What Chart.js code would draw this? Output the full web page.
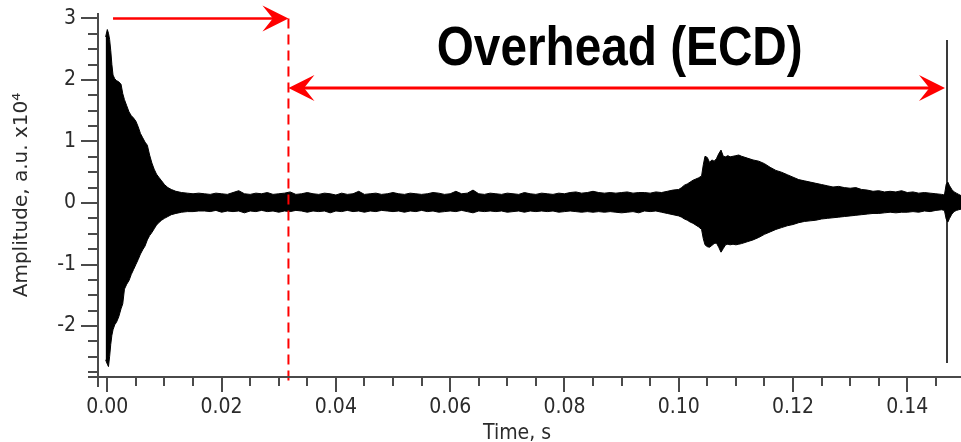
<!DOCTYPE html>
<html lang="en">
<head>
    <meta charset="UTF-8">
    <script src="https://cdn.jsdelivr.net/npm/chart.js"></script>
    <style>
        body { margin: 0; padding: 0; background: #fff; }
        .chart-container { position: relative; width: 961px; height: 442px; }
    </style>
</head>
<body>

    <div class="chart-container">
        <canvas id="myChart"></canvas>
    </div>

    <script>
        // --- DATA (amplitude in a.u. x10^4, time in s) ---
        // ring-down right after the impact
        const decayTime  = [-0.0003, 0, 0.0002, 0.0004, 0.0006, 0.0008, 0.0010, 0.0013, 0.0016, 0.0020,
                            0.0024, 0.0027, 0.0030, 0.0034, 0.0038, 0.0042, 0.0046, 0.0050, 0.0054, 0.0058,
                            0.0062, 0.0066, 0.0070, 0.0074, 0.0078, 0.0082, 0.0086, 0.0090, 0.0095, 0.0100,
                            0.0106, 0.0112, 0.0120, 0.0130, 0.0140, 0.0150, 0.0160];
        const decayUpper = [2.70, 2.82, 2.76, 2.66, 2.48, 2.25, 2.08, 2.02, 1.99, 1.97,
                            1.93, 1.78, 1.68, 1.58, 1.48, 1.42, 1.38, 1.33, 1.24, 1.13,
                            1.06, 0.99, 0.94, 0.78, 0.65, 0.55, 0.47, 0.42, 0.36, 0.30,
                            0.25, 0.22, 0.19, 0.17, 0.16, 0.15, 0.16];
        const decayLower = [-2.55, -2.62, -2.66, -2.50, -2.30, -2.15, -2.06, -1.98, -1.94, -1.85,
                            -1.72, -1.64, -1.40, -1.32, -1.26, -1.16, -1.08, -1.00, -0.92, -0.83,
                            -0.76, -0.70, -0.60, -0.53, -0.48, -0.42, -0.36, -0.32, -0.28, -0.25,
                            -0.22, -0.19, -0.17, -0.15, -0.14, -0.14, -0.13];

        // quiet stretch (background noise)
        const quietTime  = [0.017, 0.018, 0.019, 0.020, 0.021, 0.022, 0.023, 0.024, 0.025, 0.026,
                            0.027, 0.028, 0.029, 0.030, 0.031, 0.032, 0.033, 0.034, 0.035, 0.036,
                            0.037, 0.038, 0.039, 0.040, 0.041, 0.042, 0.043, 0.044, 0.045, 0.046,
                            0.047, 0.048, 0.049, 0.050, 0.051, 0.052, 0.053, 0.054, 0.055, 0.056,
                            0.057, 0.058, 0.059, 0.060, 0.061, 0.062, 0.063, 0.064, 0.065, 0.066,
                            0.067, 0.068, 0.069, 0.070, 0.071, 0.072, 0.073, 0.074, 0.075, 0.076,
                            0.077, 0.078, 0.079, 0.080, 0.081, 0.082, 0.083, 0.084, 0.085, 0.086,
                            0.087, 0.088, 0.089, 0.090, 0.091, 0.092, 0.093];
        const quietUpper = [0.15, 0.14, 0.16, 0.15, 0.14, 0.17, 0.20, 0.15, 0.14, 0.16,
                            0.15, 0.17, 0.14, 0.15, 0.16, 0.18, 0.14, 0.15, 0.17, 0.15,
                            0.14, 0.16, 0.15, 0.13, 0.16, 0.14, 0.15, 0.19, 0.14, 0.15,
                            0.16, 0.14, 0.15, 0.17, 0.15, 0.14, 0.16, 0.15, 0.14, 0.15,
                            0.17, 0.16, 0.14, 0.15, 0.19, 0.15, 0.16, 0.21, 0.15, 0.14,
                            0.16, 0.15, 0.14, 0.16, 0.15, 0.14, 0.17, 0.15, 0.14, 0.16,
                            0.15, 0.14, 0.16, 0.15, 0.17, 0.18, 0.16, 0.17, 0.19, 0.17,
                            0.16, 0.17, 0.16, 0.17, 0.18, 0.16, 0.17];
        const quietLower = [-0.13, -0.14, -0.12, -0.15, -0.13, -0.14, -0.13, -0.16, -0.13, -0.14,
                            -0.12, -0.14, -0.13, -0.15, -0.13, -0.14, -0.12, -0.13, -0.15, -0.13,
                            -0.14, -0.13, -0.16, -0.13, -0.14, -0.12, -0.14, -0.13, -0.15, -0.13,
                            -0.14, -0.12, -0.13, -0.14, -0.13, -0.15, -0.13, -0.14, -0.12, -0.14,
                            -0.13, -0.15, -0.14, -0.13, -0.14, -0.12, -0.14, -0.16, -0.13, -0.14,
                            -0.13, -0.14, -0.13, -0.15, -0.14, -0.13, -0.15, -0.13, -0.14, -0.13,
                            -0.14, -0.13, -0.15, -0.14, -0.13, -0.14, -0.15, -0.14, -0.15, -0.14,
                            -0.15, -0.14, -0.15, -0.16, -0.15, -0.14, -0.16];

        // second burst and end of the cycle
        const burstTime  = [0.094, 0.095, 0.096, 0.097, 0.098, 0.099, 0.1000, 0.1005, 0.1010, 0.1015,
                            0.1020, 0.1025, 0.1030, 0.1035, 0.1040, 0.1043, 0.1046, 0.1050, 0.1054, 0.1058,
                            0.1062, 0.1066, 0.1070, 0.1074, 0.1078, 0.1082, 0.1086, 0.1090, 0.1095, 0.1100,
                            0.1105, 0.1110,
                            0.112, 0.113, 0.114, 0.115, 0.116, 0.117, 0.118, 0.119, 0.120, 0.121,
                            0.122, 0.123, 0.124, 0.125, 0.126, 0.127, 0.128, 0.129, 0.130, 0.131,
                            0.132, 0.133, 0.134, 0.135, 0.136, 0.137, 0.138, 0.139, 0.140, 0.141,
                            0.142, 0.143, 0.144, 0.145, 0.146,
                            0.1465, 0.1468, 0.1471, 0.1474, 0.1478, 0.1482, 0.1486, 0.1490, 0.1494];
        const burstUpper = [0.17, 0.16, 0.18, 0.17, 0.19, 0.21, 0.22, 0.25, 0.29, 0.31,
                            0.34, 0.37, 0.39, 0.41, 0.44, 0.62, 0.76, 0.74, 0.66, 0.70,
                            0.68, 0.72, 0.80, 0.86, 0.76, 0.75, 0.77, 0.75, 0.76, 0.77,
                            0.78, 0.76,
                            0.73, 0.70, 0.68, 0.64, 0.58, 0.53, 0.50, 0.46, 0.42, 0.38,
                            0.36, 0.34, 0.32, 0.30, 0.28, 0.26, 0.27, 0.25, 0.24, 0.25,
                            0.22, 0.21, 0.19, 0.20, 0.18, 0.19, 0.18, 0.20, 0.17, 0.18,
                            0.16, 0.17, 0.16, 0.15, 0.14,
                            0.13, 0.30, 0.34, 0.28, 0.22, 0.18, 0.16, 0.14, 0.12];
        const burstLower = [-0.13, -0.14, -0.13, -0.15, -0.17, -0.19, -0.21, -0.23, -0.26, -0.28,
                            -0.31, -0.33, -0.36, -0.39, -0.43, -0.58, -0.68, -0.71, -0.72, -0.69,
                            -0.66, -0.65, -0.72, -0.80, -0.74, -0.68, -0.67, -0.68, -0.67, -0.68,
                            -0.67, -0.66,
                            -0.63, -0.60, -0.56, -0.51, -0.47, -0.43, -0.40, -0.37, -0.35, -0.32,
                            -0.30, -0.29, -0.28, -0.26, -0.25, -0.24, -0.23, -0.22, -0.21, -0.20,
                            -0.19, -0.18, -0.17, -0.17, -0.16, -0.15, -0.16, -0.15, -0.15, -0.14,
                            -0.15, -0.13, -0.14, -0.12, -0.11,
                            -0.12, -0.26, -0.31, -0.25, -0.18, -0.14, -0.12, -0.11, -0.10];

        // sharp spike that closes the cycle
        const spikeTime = [0.14695, 0.14695];
        const spikeAmp  = [2.65, -2.60];

        // axes
        const xTickLabels = ['0.00', '0.02', '0.04', '0.06', '0.08', '0.10', '0.12', '0.14'];
        const yTickLabels = ['-2', '-1', '0', '1', '2', '3'];

        // annotation: end of the ring-down and the ECD overhead span
        const ecdStart = 0.0317;
        const ecdLabel = 'Overhead (ECD)';

        // --- BUILD POINTS ---
        const toPts = (t, v) => t.map((x, i) => ({ x: x, y: v[i] }));
        const allTime  = decayTime.concat(quietTime, burstTime);
        const allUpper = decayUpper.concat(quietUpper, burstUpper);
        const allLower = decayLower.concat(quietLower, burstLower);

        const FONT = "'DejaVu Sans Condensed', 'DejaVu Sans', sans-serif";
        const TXT = '#2b2b2b';
        const RED = '#ff0000';

        // stealth-style arrow head, dir = +1 points right, -1 points left
        function arrowHead(ctx, tipX, tipY, dir) {
            const len = 26, half = 13;
            ctx.beginPath();
            ctx.moveTo(tipX, tipY);
            ctx.lineTo(tipX - dir * len, tipY - half);
            ctx.lineTo(tipX - dir * len * 0.6, tipY);
            ctx.lineTo(tipX - dir * len, tipY + half);
            ctx.closePath();
            ctx.fill();
        }

        // axis lines + major/minor tick marks, and the x title
        const axisPlugin = {
            id: 'axisTicks',
            afterDraw(chart) {
                const { ctx, chartArea: a, scales: { x, y } } = chart;
                ctx.save();
                ctx.strokeStyle = '#4a4a4a';
                ctx.lineWidth = 2;
                ctx.beginPath();
                ctx.moveTo(a.left, a.top);
                ctx.lineTo(a.left, a.bottom + 10);
                ctx.moveTo(a.left - 10, a.bottom);
                ctx.lineTo(a.right, a.bottom);

                for (let i = -11; i <= 12; i++) {
                    const v = i * 0.25;
                    const py = Math.round(y.getPixelForValue(v));
                    const len = (i % 4 === 0) ? 17 : 10;
                    ctx.moveTo(a.left - len, py);
                    ctx.lineTo(a.left, py);
                }
                for (let i = 0; i <= 29; i++) {
                    const v = i * 0.005;
                    const px = Math.round(x.getPixelForValue(v));
                    const len = (i % 4 === 0) ? 15 : 9;
                    ctx.moveTo(px, a.bottom);
                    ctx.lineTo(px, a.bottom + len);
                }
                ctx.stroke();

                ctx.fillStyle = TXT;
                ctx.font = '21px ' + FONT;
                ctx.textAlign = 'center';
                ctx.textBaseline = 'middle';
                ctx.fillText('Time, s', 517, 434);
                ctx.restore();
            }
        };

        // red arrows, dashed marker and the label
        const notePlugin = {
            id: 'notes',
            afterDatasetsDraw(chart) {
                const { ctx, chartArea: a, scales: { x, y } } = chart;
                const xs = x.getPixelForValue(ecdStart);
                const xe = x.getPixelForValue(spikeTime[0]) - 2;
                const yTop = y.getPixelForValue(3.0);
                const yMid = y.getPixelForValue(1.87);
                ctx.save();
                ctx.strokeStyle = RED;
                ctx.fillStyle = RED;

                // dashed marker
                ctx.lineWidth = 2;
                ctx.setLineDash([10, 6]);
                ctx.beginPath();
                ctx.moveTo(xs, yTop);
                ctx.lineTo(xs, a.bottom + 6);
                ctx.stroke();
                ctx.setLineDash([]);

                // first arrow (ring-down)
                ctx.lineWidth = 2.5;
                ctx.beginPath();
                ctx.moveTo(x.getPixelForValue(0.001), yTop);
                ctx.lineTo(xs - 12, yTop);
                ctx.stroke();
                arrowHead(ctx, xs, yTop, 1);

                // double arrow (overhead)
                ctx.lineWidth = 3;
                ctx.beginPath();
                ctx.moveTo(xs + 12, yMid);
                ctx.lineTo(xe - 12, yMid);
                ctx.stroke();
                arrowHead(ctx, xs, yMid, -1);
                arrowHead(ctx, xe, yMid, 1);

                // label, slightly narrowed like the original
                ctx.fillStyle = '#000';
                ctx.font = "bold 56px 'Liberation Sans', Arial, sans-serif";
                ctx.textAlign = 'center';
                ctx.textBaseline = 'alphabetic';
                const w = ctx.measureText(ecdLabel).width;
                ctx.translate((xs + xe) / 2 + 3, yMid - 23);
                ctx.scale(366 / w, 1);
                ctx.fillText(ecdLabel, 0, 0);
                ctx.restore();
            }
        };

        const ctx = document.getElementById('myChart').getContext('2d');
        new Chart(ctx, {
            type: 'line',
            data: {
                datasets: [
                    {
                        data: toPts(allTime, allUpper),
                        borderColor: '#000',
                        backgroundColor: '#000',
                        borderWidth: 1,
                        pointRadius: 0,
                        fill: '+1'
                    },
                    {
                        data: toPts(allTime, allLower),
                        borderColor: '#000',
                        borderWidth: 1,
                        pointRadius: 0,
                        fill: false
                    },
                    {
                        data: toPts(spikeTime, spikeAmp),
                        borderColor: '#3a3a3a',
                        borderWidth: 2,
                        pointRadius: 0,
                        fill: false
                    }
                ]
            },
            options: {
                responsive: true,
                maintainAspectRatio: false,
                animation: false,
                layout: { padding: { top: 13, left: 0, right: 0, bottom: 0 } },
                plugins: {
                    legend: { display: false },
                    tooltip: { enabled: false }
                },
                scales: {
                    x: {
                        type: 'linear',
                        min: -0.00163,
                        max: 0.1494,
                        grid: { display: false },
                        border: { display: false },
                        afterBuildTicks: s => { s.ticks = xTickLabels.map(l => ({ value: Number(l) })); },
                        afterFit: s => { s.height = 65; },
                        ticks: {
                            padding: 10,
                            maxRotation: 0,
                            autoSkip: false,
                            color: TXT,
                            font: { family: FONT, size: 21 },
                            callback: (v, i) => xTickLabels[i]
                        }
                    },
                    y: {
                        min: -2.829,
                        max: 3.089,
                        // invisible tick marks only push the labels away from the axis
                        grid: {
                            display: true,
                            drawOnChartArea: false,
                            drawTicks: true,
                            tickLength: 22,
                            tickColor: 'rgba(0,0,0,0)'
                        },
                        border: { display: false },
                        afterBuildTicks: s => { s.ticks = yTickLabels.map(l => ({ value: Number(l) })); },
                        afterFit: s => { s.width = 98; },
                        ticks: {
                            padding: 0,
                            autoSkip: false,
                            color: TXT,
                            font: { family: FONT, size: 21 },
                            callback: (v, i) => yTickLabels[i]
                        },
                        title: {
                            display: true,
                            text: 'Amplitude, a.u. x10\u2074',
                            color: TXT,
                            font: { family: "'DejaVu Sans', sans-serif", size: 20 },
                            padding: { top: 10, bottom: 0 }
                        }
                    }
                }
            },
            plugins: [axisPlugin, notePlugin]
        });
    </script>
</body>
</html>
